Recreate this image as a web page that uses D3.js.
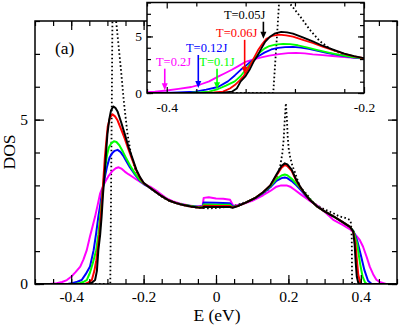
<!DOCTYPE html>
<html>
<head>
<meta charset="utf-8">
<script src="https://cdn.jsdelivr.net/npm/d3@7"></script>
<style>
  html, body { margin: 0; padding: 0; background: #fff; }
  svg { display: block; font-family: "Liberation Serif", "Times New Roman", serif; }
</style>
</head>
<body>
<svg id="chart" width="399" height="327"></svg>
<script>
// DOS(E) curves, [E (eV), DOS] pairs
var dosBare = [[-0.5,0],[-0.292,0],[-0.2905,2],[-0.289,4],[-0.2875,6],[-0.286,8.2],[-0.283,9.6],[-0.276,8.0],[-0.265,6.8],[-0.255,5.6],[-0.245,4.6],[-0.235,3.95],[-0.222,3.45],[-0.21,3.15],[-0.19,2.98],[-0.17,2.82],[-0.15,2.66],[-0.136,2.56],[-0.12,2.5],[-0.1,2.42],[-0.075,2.36],[-0.05,2.32],[-0.02,2.3],[0.01,2.32],[0.039,2.36],[0.06,2.41],[0.085,2.5],[0.11,2.62],[0.13,2.76],[0.145,2.88],[0.158,3.06],[0.17,3.32],[0.177,3.57],[0.183,3.95],[0.187,4.4],[0.19,5.0],[0.193,5.5],[0.196,5.0],[0.198,4.5],[0.201,4.1],[0.205,3.85],[0.211,3.6],[0.218,3.4],[0.232,2.95],[0.25,2.74],[0.265,2.52],[0.278,2.4],[0.3,2.27],[0.323,2.16],[0.34,2.06],[0.351,2.03],[0.362,1.99],[0.37,1.95],[0.373,1.85],[0.375,1.4],[0.376,0],[0.5,0]];

var dosT005 = [[-0.5,0],[-0.352,0],[-0.343,0.04],[-0.334,0.12],[-0.329,0.4],[-0.325,1.03],[-0.32,1.5],[-0.316,2.05],[-0.312,2.75],[-0.308,3.3],[-0.304,3.95],[-0.3,4.55],[-0.295,5.0],[-0.29,5.28],[-0.284,5.4],[-0.278,5.36],[-0.272,5.25],[-0.262,4.92],[-0.252,4.56],[-0.242,4.18],[-0.232,3.86],[-0.22,3.48],[-0.21,3.25],[-0.2,3.08],[-0.19,2.99],[-0.17,2.83],[-0.15,2.67],[-0.13,2.54],[-0.11,2.46],[-0.09,2.4],[-0.07,2.36],[-0.05,2.33],[-0.037,2.32],[-0.034,2.35],[0,2.34],[0.038,2.34],[0.046,2.32],[0.06,2.37],[0.085,2.49],[0.11,2.63],[0.13,2.79],[0.15,3.0],[0.167,3.33],[0.181,3.59],[0.19,3.67],[0.197,3.64],[0.209,3.48],[0.222,3.16],[0.232,2.97],[0.241,2.82],[0.259,2.56],[0.278,2.37],[0.3,2.21],[0.324,2.06],[0.35,1.88],[0.37,1.74],[0.379,1.6],[0.383,1.2],[0.386,0.65],[0.389,0.22],[0.393,0.04],[0.397,0],[0.5,0]];

var dosT006 = [[-0.5,0],[-0.362,0],[-0.352,0.05],[-0.343,0.12],[-0.336,0.4],[-0.331,0.7],[-0.327,1.03],[-0.322,1.5],[-0.318,2.05],[-0.314,2.7],[-0.311,3.2],[-0.307,3.85],[-0.303,4.35],[-0.299,4.8],[-0.292,5.08],[-0.286,5.16],[-0.279,5.1],[-0.272,4.98],[-0.262,4.7],[-0.252,4.42],[-0.242,4.1],[-0.232,3.8],[-0.22,3.45],[-0.21,3.23],[-0.2,3.07],[-0.19,2.99],[-0.17,2.83],[-0.15,2.67],[-0.13,2.54],[-0.11,2.46],[-0.09,2.4],[-0.07,2.36],[-0.05,2.33],[-0.037,2.33],[-0.034,2.38],[0,2.37],[0.038,2.37],[0.046,2.33],[0.06,2.37],[0.085,2.49],[0.11,2.63],[0.13,2.79],[0.15,3.0],[0.167,3.3],[0.181,3.54],[0.19,3.62],[0.197,3.59],[0.209,3.44],[0.222,3.14],[0.232,2.96],[0.241,2.81],[0.259,2.56],[0.278,2.37],[0.3,2.21],[0.324,2.06],[0.35,1.88],[0.37,1.74],[0.379,1.59],[0.385,1.25],[0.389,0.75],[0.393,0.28],[0.398,0.06],[0.402,0],[0.5,0]];

var dosT01 = [[-0.5,0],[-0.39,0],[-0.375,0.03],[-0.365,0.07],[-0.357,0.12],[-0.348,0.35],[-0.34,0.65],[-0.331,1.03],[-0.325,1.5],[-0.32,2.05],[-0.315,2.6],[-0.311,3.1],[-0.306,3.55],[-0.301,3.92],[-0.296,4.15],[-0.29,4.27],[-0.282,4.34],[-0.275,4.32],[-0.267,4.22],[-0.257,4.02],[-0.247,3.8],[-0.237,3.6],[-0.225,3.38],[-0.212,3.18],[-0.2,3.06],[-0.19,2.99],[-0.17,2.83],[-0.15,2.67],[-0.13,2.54],[-0.11,2.46],[-0.09,2.41],[-0.07,2.37],[-0.05,2.34],[-0.037,2.34],[-0.034,2.42],[0,2.41],[0.038,2.41],[0.046,2.34],[0.06,2.37],[0.085,2.49],[0.11,2.63],[0.13,2.78],[0.15,2.97],[0.167,3.2],[0.181,3.3],[0.19,3.33],[0.197,3.31],[0.209,3.2],[0.222,3.05],[0.232,2.93],[0.25,2.7],[0.259,2.58],[0.278,2.37],[0.3,2.21],[0.324,2.06],[0.35,1.88],[0.37,1.74],[0.38,1.6],[0.39,1.22],[0.398,0.62],[0.405,0.22],[0.412,0.04],[0.418,0],[0.5,0]];

var dosT012 = [[-0.5,0],[-0.41,0],[-0.395,0.03],[-0.383,0.07],[-0.371,0.12],[-0.36,0.3],[-0.348,0.53],[-0.338,1.03],[-0.331,1.55],[-0.325,2.05],[-0.32,2.4],[-0.315,2.76],[-0.308,3.2],[-0.301,3.57],[-0.294,3.85],[-0.287,3.98],[-0.28,4.05],[-0.272,4.08],[-0.264,4.02],[-0.256,3.9],[-0.248,3.74],[-0.238,3.55],[-0.226,3.36],[-0.212,3.16],[-0.2,3.04],[-0.19,2.98],[-0.17,2.82],[-0.15,2.67],[-0.13,2.54],[-0.11,2.46],[-0.09,2.41],[-0.07,2.37],[-0.05,2.35],[-0.037,2.35],[-0.034,2.48],[0,2.47],[0.038,2.46],[0.046,2.36],[0.06,2.38],[0.085,2.49],[0.11,2.62],[0.13,2.76],[0.15,2.94],[0.167,3.14],[0.181,3.22],[0.19,3.24],[0.197,3.22],[0.209,3.13],[0.222,3.0],[0.235,2.85],[0.25,2.66],[0.265,2.5],[0.28,2.36],[0.3,2.21],[0.324,2.06],[0.35,1.88],[0.37,1.74],[0.38,1.6],[0.39,1.32],[0.4,0.88],[0.41,0.42],[0.42,0.1],[0.43,0],[0.5,0]];

var dosT02 = [[-0.5,0],[-0.46,0],[-0.44,0.02],[-0.425,0.06],[-0.412,0.12],[-0.4,0.22],[-0.388,0.36],[-0.375,0.53],[-0.366,0.75],[-0.357,1.03],[-0.348,1.45],[-0.341,1.75],[-0.334,2.05],[-0.327,2.4],[-0.32,2.76],[-0.312,2.98],[-0.304,3.15],[-0.296,3.3],[-0.286,3.44],[-0.277,3.52],[-0.269,3.55],[-0.26,3.5],[-0.252,3.42],[-0.242,3.34],[-0.232,3.27],[-0.22,3.18],[-0.21,3.11],[-0.2,3.05],[-0.182,2.96],[-0.16,2.8],[-0.136,2.6],[-0.12,2.52],[-0.1,2.45],[-0.075,2.39],[-0.053,2.36],[-0.037,2.38],[-0.034,2.62],[-0.02,2.64],[0,2.6],[0.02,2.59],[0.039,2.56],[0.048,2.37],[0.07,2.42],[0.1,2.53],[0.13,2.7],[0.15,2.83],[0.167,2.96],[0.18,3.0],[0.195,3.0],[0.205,2.96],[0.218,2.86],[0.235,2.72],[0.25,2.6],[0.265,2.48],[0.278,2.4],[0.3,2.2],[0.324,1.95],[0.35,1.8],[0.374,1.64],[0.385,1.5],[0.397,1.34],[0.406,1.14],[0.416,0.83],[0.425,0.52],[0.434,0.3],[0.443,0.13],[0.452,0.06],[0.47,0],[0.5,0]];

// inset arrows: label, energy, arrow tail / tip in DOS units
var arrowLabels = ["T=0.05J", "T=0.06J", "T=0.12J", "T=0.1J", "T=0.2J"];
var arrowE = [-0.302, -0.321, -0.368, -0.349, -0.402];
var arrowTail = [6.3, 4.7, 3.36, 2.15, 2.15];
var arrowTip = [4.8, 1.7, 0.44, 0.33, 0.24];

var xTicksMain = [-0.4, -0.2, 0, 0.2, 0.4];
var yTicksMain = [0, 5];
var xTicksInset = [-0.4, -0.2];
var yTicksInset = [0, 5];

var svg = d3.select("#chart");

var series = [
  {data: dosBare, color: "#000", dotted: true},
  {data: dosT02, color: "#ff00ff"},
  {data: dosT012, color: "#0000ff"},
  {data: dosT01, color: "#00ff00"},
  {data: dosT006, color: "#ff0000"},
  {data: dosT005, color: "#000"}
];

function panel(g, x, y, o) {
  var id = o.id;
  g.append("rect")
    .attr("x", x.range()[0]).attr("y", y.range()[1])
    .attr("width", x.range()[1] - x.range()[0])
    .attr("height", y.range()[0] - y.range()[1])
    .attr("fill", "#fff");

  g.append("clipPath").attr("id", id).append("rect")
    .attr("x", x.range()[0]).attr("y", y.range()[1])
    .attr("width", x.range()[1] - x.range()[0])
    .attr("height", y.range()[0] - y.range()[1]);

  var line = d3.line().x(function (d) {return x(d[0]);}).y(function (d) {return y(d[1]);});

  g.append("g").attr("clip-path", "url(#" + id + ")")
    .selectAll("path").data(series).enter().append("path")
    .attr("d", function (d) {return line(d.data);})
    .attr("fill", "none")
    .attr("stroke", function (d) {return d.color;})
    .attr("stroke-width", function (d) {return d.dotted ? 1.8 : o.lw;})
    .attr("stroke-dasharray", function (d) {return d.dotted ? "1.6,2.4" : null;})
    .attr("stroke-linejoin", "round");

  var xMinor = d3.range(x.domain()[0], x.domain()[1] + 1e-9, 0.05).map(function (v) {return Math.round(v * 100) / 100;});
  var yMinor = d3.range(0, 8.001, 1);
  var fmt = function (d) {return d === 0 ? "0" : d.toFixed(1);};

  var axes = g.append("g").attr("class", "axes");
  function put(axis, tr) {
    var a = axes.append("g").attr("transform", tr).call(axis);
    a.attr("font-family", null).attr("font-size", o.fs);
    a.select(".domain").remove();
    a.selectAll("line").attr("stroke", "#000").attr("stroke-width", 1.2);
    a.selectAll("text").attr("fill", "#000");
    return a;
  }
  var bx = "translate(0," + y.range()[0] + ")", tx = "translate(0," + y.range()[1] + ")";
  var lx = "translate(" + x.range()[0] + ",0)", rx = "translate(" + x.range()[1] + ",0)";

  put(d3.axisBottom(x).tickValues(xMinor).tickSizeInner(-o.minor).tickSizeOuter(0).tickFormat(""), bx);
  put(d3.axisTop(x).tickValues(xMinor).tickSizeInner(-o.minor).tickSizeOuter(0).tickFormat(""), tx);
  put(d3.axisLeft(y).tickValues(yMinor).tickSizeInner(-o.minor).tickSizeOuter(0).tickFormat(""), lx);
  put(d3.axisRight(y).tickValues(yMinor).tickSizeInner(-o.minor).tickSizeOuter(0).tickFormat(""), rx);

  put(d3.axisBottom(x).tickValues(o.xt).tickSizeInner(-o.major).tickSizeOuter(0).tickPadding(o.xpad).tickFormat(fmt), bx);
  put(d3.axisTop(x).tickValues(o.xt).tickSizeInner(-o.major).tickSizeOuter(0).tickFormat(""), tx);
  put(d3.axisLeft(y).tickValues(o.yt).tickSizeInner(-o.major).tickSizeOuter(0).tickPadding(o.ypad).tickFormat(d3.format("d")), lx);
  put(d3.axisRight(y).tickValues(o.yt).tickSizeInner(-o.major).tickSizeOuter(0).tickFormat(""), rx);

  g.append("rect")
    .attr("x", x.range()[0]).attr("y", y.range()[1])
    .attr("width", x.range()[1] - x.range()[0])
    .attr("height", y.range()[0] - y.range()[1])
    .attr("fill", "none").attr("stroke", "#000").attr("stroke-width", 1.5);
}

// main panel
var x = d3.scaleLinear().domain([-0.5, 0.5]).range([35, 397]);
var y = d3.scaleLinear().domain([0, 8]).range([284, 21]);
var main = svg.append("g");
panel(main, x, y, {id: "clipMain", lw: 2, minor: 5, major: 9, xt: xTicksMain, yt: yTicksMain, xpad: 7, ypad: 7, fs: 15.5});

main.append("text").attr("x", 217).attr("y", 321).attr("text-anchor", "middle")
  .attr("font-size", 17.5).text("E (eV)");
main.append("text").attr("transform", "translate(15,152) rotate(-90)").attr("text-anchor", "middle")
  .attr("font-size", 17.5).text("DOS");
main.append("text").attr("x", 55).attr("y", 54).attr("font-size", 17.5).text("(a)");

// inset panel
var xi = d3.scaleLinear().domain([-0.42, -0.2]).range([147, 364]);
var yi = d3.scaleLinear().domain([0, 8]).range([93, 2.5]);
var inset = svg.append("g");
panel(inset, xi, yi, {id: "clipInset", lw: 1.8, minor: 4, major: 6, xt: xTicksInset, yt: yTicksInset, xpad: 9, ypad: 5, fs: 13.5});

var arrowColors = ["#000", "#ff0000", "#0000ff", "#00ff00", "#ff00ff"];
var labelDx = [-39.5, -28.6, -12.3, -17.7, -8.8];

arrowLabels.forEach(function (lab, i) {
  var ax = xi(arrowE[i]), y0 = yi(arrowTail[i]), y1 = yi(arrowTip[i]);
  var c = arrowColors[i];
  inset.append("line").attr("x1", ax).attr("x2", ax).attr("y1", y0).attr("y2", y1 - 5)
    .attr("stroke", c).attr("stroke-width", 1.6);
  inset.append("path")
    .attr("d", "M" + ax + "," + y1 + "L" + (ax - 3) + "," + (y1 - 7) + "L" + (ax + 3) + "," + (y1 - 7) + "Z")
    .attr("fill", c);
  inset.append("text").attr("x", ax + labelDx[i]).attr("y", y0 - 2.5)
    .attr("font-size", 12.5).attr("fill", c).text(lab);
});
</script>
</body>
</html>
